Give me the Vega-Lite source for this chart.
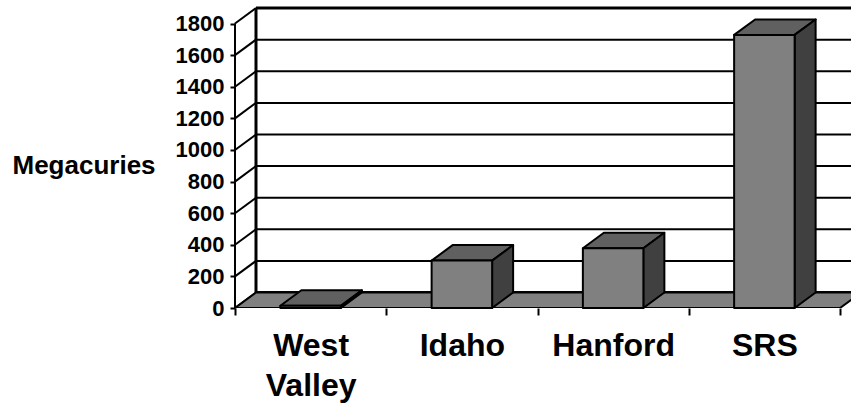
{
  "$schema": "https://vega.github.io/schema/vega-lite/v6.json",
  "autosize": "none",
  "width": 616,
  "height": 308,
  "padding": {"left": 235, "top": 0, "right": 0, "bottom": 99},
  "background": "white",
  "config": {
    "view": {"stroke": null},
    "font": "Liberation Sans",
    "axis": {
      "domain": false, "grid": false,
      "tickColor": "black", "tickWidth": 2,
      "labelFont": "Liberation Sans", "labelFontWeight": "bold", "labelColor": "black",
      "labelOverlap": false, "labelBound": false, "labelFlush": false,
      "titleFont": "Liberation Sans", "titleFontWeight": "bold", "titleColor": "black"
    },
    "axisX": {"tickSize": 7, "labelFontSize": 32, "labelPadding": 15, "labelLineHeight": 40},
    "axisY": {"tickSize": 5, "labelFontSize": 22, "labelPadding": 6, "format": "d", "titleFontSize": 26}
  },
  "params": [
    {"name": "dx", "value": 0.1388},
    {"name": "dy", "value": 98}
  ],
  "datasets": {
    "sites": [
      {"site": "West Valley", "mci": 14},
      {"site": "Idaho", "mci": 300},
      {"site": "Hanford", "mci": 378},
      {"site": "SRS", "mci": 1728}
    ],
    "grid": [
      {"v": 0}, {"v": 200}, {"v": 400}, {"v": 600}, {"v": 800},
      {"v": 1000}, {"v": 1200}, {"v": 1400}, {"v": 1600}, {"v": 1800}
    ]
  },
  "resolve": {"axis": {"x": "independent", "y": "independent"}},
  "layer": [
    {
      "data": {"name": "grid"},
      "transform": [
        {"calculate": "datum.v + dy", "as": "yb"},
        {"calculate": "dx", "as": "xa"},
        {"calculate": "4.0727", "as": "xb"},
        {"calculate": "datum.v == 0 || datum.v == 1800 ? 3 : 2", "as": "w"}
      ],
      "mark": {"type": "rule", "color": "black"},
      "encoding": {
        "x": {"field": "xa", "type": "quantitative", "scale": {"domain": [0, 4.0727], "nice": false, "zero": false}, "axis": null},
        "x2": {"field": "xb"},
        "y": {"field": "yb", "type": "quantitative", "scale": {"domain": [0, 1949], "nice": false}, "axis": null},
        "strokeWidth": {"field": "w", "type": "quantitative", "scale": null, "legend": null}
      }
    },
    {
      "data": {"name": "grid"},
      "transform": [
        {"calculate": "datum.v + dy", "as": "yb"},
        {"calculate": "0", "as": "xa"},
        {"calculate": "dx", "as": "xb"}
      ],
      "mark": {"type": "rule", "color": "black", "strokeWidth": 2},
      "encoding": {
        "x": {"field": "xa", "type": "quantitative", "axis": null},
        "x2": {"field": "xb"},
        "y": {"field": "v", "type": "quantitative", "axis": null},
        "y2": {"field": "yb"}
      }
    },
    {
      "data": {"name": "grid"},
      "transform": [
        {"filter": "datum.v == 1800"},
        {"calculate": "datum.v + dy", "as": "yb"},
        {"calculate": "dy", "as": "ya"},
        {"calculate": "dx", "as": "xa"}
      ],
      "mark": {"type": "rule", "color": "black", "strokeWidth": 3},
      "encoding": {
        "x": {"field": "xa", "type": "quantitative", "axis": null},
        "y": {"field": "ya", "type": "quantitative", "axis": null},
        "y2": {"field": "yb"}
      }
    },
    {
      "data": {"name": "grid"},
      "transform": [
        {"filter": "datum.v == 1800"},
        {"calculate": "0", "as": "ya"},
        {"calculate": "0", "as": "xa"}
      ],
      "mark": {"type": "rule", "color": "black", "strokeWidth": 2},
      "encoding": {
        "x": {"field": "xa", "type": "quantitative", "axis": null},
        "y": {"field": "ya", "type": "quantitative", "axis": null},
        "y2": {"field": "v"}
      }
    },
    {
      "data": {"name": "grid"},
      "transform": [
        {"filter": "datum.v == 0"},
        {"calculate": "0", "as": "k0"},
        {"calculate": "1", "as": "k1"},
        {"fold": ["k0", "k1"], "as": ["edge", "depth"]},
        {"calculate": "datum.v + datum.depth * dy", "as": "yy"},
        {"calculate": "datum.depth * dx", "as": "xa"},
        {"calculate": "4 + datum.depth * dx", "as": "xb"}
      ],
      "mark": {"type": "area", "orient": "horizontal", "fill": "#808080", "stroke": "black", "strokeWidth": 2, "clip": true},
      "encoding": {
        "y": {"field": "yy", "type": "quantitative", "axis": null},
        "x": {"field": "xa", "type": "quantitative", "axis": null},
        "x2": {"field": "xb"}
      }
    },
    {
      "data": {"name": "sites"},
      "transform": [
        {"window": [{"op": "row_number", "as": "n"}]},
        {"calculate": "0", "as": "k0"},
        {"calculate": "1", "as": "k1"},
        {"fold": ["k0", "k1"], "as": ["edge", "depth"]},
        {"calculate": "datum.mci + datum.depth * dy", "as": "yy"},
        {"calculate": "datum.n - 0.7 + datum.depth * dx", "as": "xa"},
        {"calculate": "datum.n - 0.3 + datum.depth * dx", "as": "xb"}
      ],
      "mark": {"type": "area", "orient": "horizontal", "fill": "#606060", "stroke": "black", "strokeWidth": 2, "strokeJoin": "round"},
      "encoding": {
        "y": {"field": "yy", "type": "quantitative", "axis": null},
        "x": {"field": "xa", "type": "quantitative", "axis": null},
        "x2": {"field": "xb"},
        "detail": {"field": "site", "type": "nominal"}
      }
    },
    {
      "data": {"name": "sites"},
      "transform": [
        {"window": [{"op": "row_number", "as": "n"}]},
        {"calculate": "0", "as": "k0"},
        {"calculate": "1", "as": "k1"},
        {"fold": ["k0", "k1"], "as": ["edge", "depth"]},
        {"calculate": "datum.n - 0.3 + datum.depth * dx", "as": "xs"},
        {"calculate": "datum.depth * dy", "as": "ylo"},
        {"calculate": "datum.mci + datum.depth * dy", "as": "yhi"}
      ],
      "mark": {"type": "area", "orient": "vertical", "fill": "#404040", "stroke": "black", "strokeWidth": 2, "strokeJoin": "round"},
      "encoding": {
        "x": {"field": "xs", "type": "quantitative", "axis": null},
        "y": {"field": "ylo", "type": "quantitative", "axis": null},
        "y2": {"field": "yhi"},
        "detail": {"field": "site", "type": "nominal"}
      }
    },
    {
      "data": {"name": "sites"},
      "transform": [
        {"window": [{"op": "row_number", "as": "n"}]},
        {"calculate": "datum.n - 0.7", "as": "x0"},
        {"calculate": "datum.n - 0.3", "as": "x1"},
        {"calculate": "0", "as": "base"}
      ],
      "mark": {"type": "bar", "fill": "#808080", "stroke": "black", "strokeWidth": 2, "strokeJoin": "round"},
      "encoding": {
        "x": {
          "field": "x0", "type": "quantitative",
          "axis": {
            "orient": "bottom",
            "values": [0, 0.5, 1, 1.5, 2, 2.5, 3, 3.5, 4],
            "title": null,
            "tickOpacity": {"condition": {"test": "datum.value % 1 != 0", "value": 0}, "value": 1},
            "labelExpr": "datum.value == 0.5 ? ['West', 'Valley'] : datum.value == 1.5 ? 'Idaho' : datum.value == 2.5 ? 'Hanford' : datum.value == 3.5 ? 'SRS' : ''"
          }
        },
        "x2": {"field": "x1"},
        "y": {
          "field": "mci", "type": "quantitative",
          "axis": {
            "orient": "left",
            "values": [0, 200, 400, 600, 800, 1000, 1200, 1400, 1600, 1800],
            "title": "Megacuries", "titleAngle": 0, "titleAlign": "left", "titleBaseline": "alphabetic",
            "titleX": -223, "titleY": 173
          }
        },
        "y2": {"field": "base"}
      }
    }
  ]
}
